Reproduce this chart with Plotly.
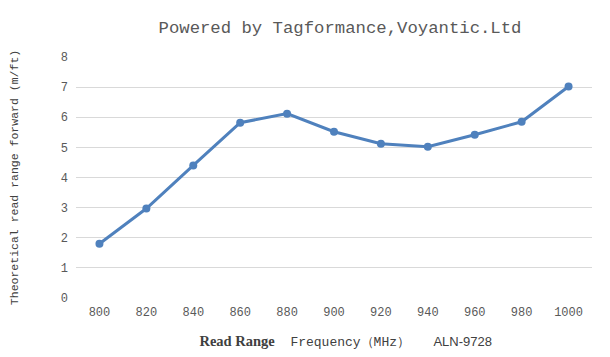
import plotly.graph_objects as go

frequencies = ["800", "820", "840", "860", "880", "900", "920", "940", "960", "980", "1000"]
read_range = [1.8, 2.97, 4.4, 5.82, 6.12, 5.52, 5.12, 5.02, 5.42, 5.85, 7.02]
y_ticks = [0, 1, 2, 3, 4, 5, 6, 7, 8]

mono = "Liberation Mono, DejaVu Sans Mono, monospace"
grey = "#595959"

W, H = 602, 349          # page has an 8px body margin
L, R, T, B = 68, 18, 49, 59
PW, PH = W - L - R, H - T - B

fig = go.Figure()
fig.add_trace(go.Scatter(
    x=frequencies, y=read_range, mode="lines+markers",
    line=dict(color="#4f81bd", width=3),
    marker=dict(color="#4f81bd", size=8),
    showlegend=False, hoverinfo="x+y",
))

fig.update_layout(
    width=W, height=H,
    margin=dict(l=L, r=R, t=T, b=B, autoexpand=False),
    paper_bgcolor="white", plot_bgcolor="white",
    title=dict(text="Powered by Tagformance,Voyantic.Ltd", x=(340 - 8) / W, xanchor="center",
               y=1 - (27 - 8) / H, yanchor="middle",
               font=dict(family=mono, size=17.3, color=grey)),
    xaxis=dict(type="category", range=[-0.5, 10.5], showgrid=False, zeroline=False,
               showline=False, ticks="", ticklabelstandoff=5, automargin=False,
               tickfont=dict(family=mono, size=12, color=grey),
               title=dict(text="&nbsp;&nbsp;&nbsp;"
                               "<span style='font-family:Liberation Serif;font-size:14.5px'><b>Read Range</b></span>"
                               "  Frequency（MHz）   "
                               "<span style='font-family:Liberation Sans'>ALN-9728</span>",
                          font=dict(family=mono, size=13, color="#404040"), standoff=17)),
    yaxis=dict(range=[0, 8], tickvals=y_ticks, showgrid=True, gridcolor="#d9d9d9", gridwidth=1,
               zeroline=False, showline=False, ticks="", ticklabelstandoff=7, automargin=False,
               tickfont=dict(family=mono, size=12, color=grey),
               title=dict(text="Theoretical read range forward (m/ft)",
                          font=dict(family=mono, size=11.5, color="#404040"), standoff=42)),
)

xr = (609 - 8 - L) / PW
fig.add_shape(type="line", xref="paper", yref="paper", x0=xr, x1=xr,
              y0=-B / PH, y1=(PH + T) / PH, line=dict(color="#d9d9d9", width=1))

fig.write_html("out.html")
